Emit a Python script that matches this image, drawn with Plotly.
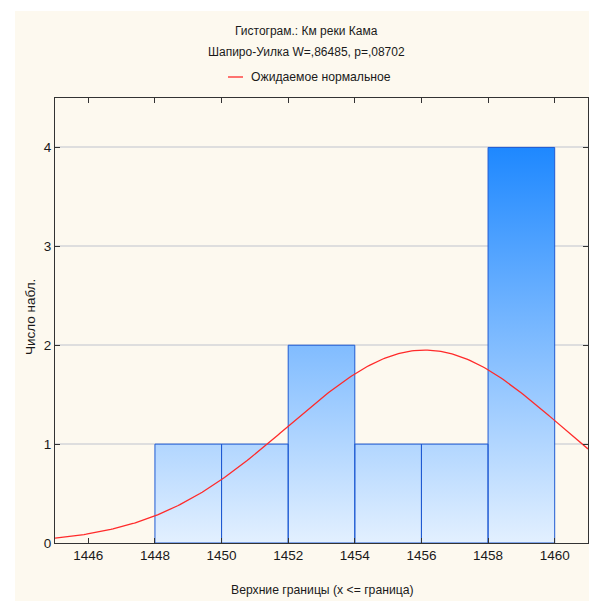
import numpy as np
import plotly.graph_objects as go

# Histogram data: upper bin bounds and observation counts
bin_upper = [1450, 1452, 1454, 1456, 1458, 1460]
counts = [1, 1, 2, 1, 1, 4]
bin_width = 2

# Fitted normal parameters (expected normal curve)
fit_mean = 1456.1
fit_sd = 4.09

x_ticks = [1446, 1448, 1450, 1452, 1454, 1456, 1458, 1460]
y_ticks = [0, 1, 2, 3, 4]

title_line1 = "Гистограм.: Км реки Кама"
title_line2 = "Шапиро-Уилка W=,86485, p=,08702"
legend_text = "Ожидаемое нормальное"
x_title = "Верхние границы (x <= граница)"
y_title = "Число набл."

FONT = "Liberation Sans, Arial, sans-serif"
TXT = "#1a1a1a"

# Figure geometry in pixels
W, H = 589, 601
L, T, R, B = 55, 98, 588, 543


def px_x(x):
    return (x - L) / (R - L)


def px_y(y):
    return (B - y) / (B - T)


fig = go.Figure()

# Bars as filled rectangles so they can carry a vertical gradient
bx, by = [], []
for up, c in zip(bin_upper, counts):
    lo = up - bin_width
    bx += [lo, lo, up, up, lo, None]
    by += [0, c, c, 0, 0, None]

fig.add_trace(go.Scatter(
    x=bx, y=by, mode="lines", fill="toself",
    line=dict(color="#1f5ad2", width=1),
    fillgradient=dict(type="vertical",
                      colorscale=[[0, "#e3f0ff"], [1, "#1e88ff"]],
                      start=0, stop=4),
    hoverinfo="skip", showlegend=False,
))

# Expected normal curve scaled to counts
n_obs = sum(counts)
xc = np.linspace(1445, 1461, 240)
yc = n_obs * bin_width / (fit_sd * np.sqrt(2 * np.pi)) * np.exp(-0.5 * ((xc - fit_mean) / fit_sd) ** 2)
fig.add_trace(go.Scatter(
    x=xc, y=yc, mode="lines",
    line=dict(color="#ff2a2a", width=1.3),
    name=legend_text, showlegend=False,
))

shapes = [
    # cream page background
    dict(type="rect", xref="paper", yref="paper",
         x0=px_x(15), x1=px_x(W), y0=px_y(11), y1=px_y(H),
         fillcolor="#fdf9ef", line=dict(width=0), layer="below"),
    # legend sample line
    dict(type="line", xref="paper", yref="paper",
         x0=px_x(228), x1=px_x(243), y0=px_y(77), y1=px_y(77),
         line=dict(color="#ff2a2a", width=1.3)),
]

annotations = [
    dict(text=title_line1, xref="paper", yref="paper", x=px_x(306), y=px_y(31),
         showarrow=False, xanchor="center", yanchor="middle",
         font=dict(family=FONT, size=12, color=TXT)),
    dict(text=title_line2, xref="paper", yref="paper", x=px_x(306), y=px_y(52),
         showarrow=False, xanchor="center", yanchor="middle",
         font=dict(family=FONT, size=12, color=TXT)),
    dict(text=legend_text, xref="paper", yref="paper", x=px_x(249), y=px_y(77),
         showarrow=False, xanchor="left", yanchor="middle",
         font=dict(family=FONT, size=12.2, color=TXT)),
    dict(text=x_title, xref="paper", yref="paper", x=px_x(322), y=px_y(590),
         showarrow=False, xanchor="center", yanchor="middle",
         font=dict(family=FONT, size=12.2, color=TXT)),
    dict(text=y_title, xref="paper", yref="paper", x=px_x(30), y=px_y(317),
         showarrow=False, xanchor="center", yanchor="middle", textangle=-90,
         font=dict(family=FONT, size=13.5, color=TXT)),
]

fig.update_layout(
    width=W, height=H,
    margin=dict(l=L, r=W - R, t=T, b=H - B, pad=0),
    paper_bgcolor="white", plot_bgcolor="white",
    shapes=shapes, annotations=annotations,
    showlegend=False,
    font=dict(family=FONT, size=13.5, color=TXT),
)

fig.update_xaxes(
    range=[1445, 1461], tickvals=x_ticks,
    ticks="inside", ticklen=5, tickcolor="#333", tickwidth=1,
    showline=True, linecolor="#333", linewidth=1, mirror="ticks",
    showgrid=False, zeroline=False,
    tickfont=dict(family=FONT, size=13.5, color=TXT),
)
fig.update_yaxes(
    range=[0, 4.5], tickvals=y_ticks,
    ticks="inside", ticklen=5, tickcolor="#333", tickwidth=1,
    showline=True, linecolor="#333", linewidth=1, mirror="ticks",
    showgrid=True, gridcolor="#dedede", gridwidth=2, zeroline=False,
    tickfont=dict(family=FONT, size=13.5, color=TXT),
)

fig.write_html("out.html")
